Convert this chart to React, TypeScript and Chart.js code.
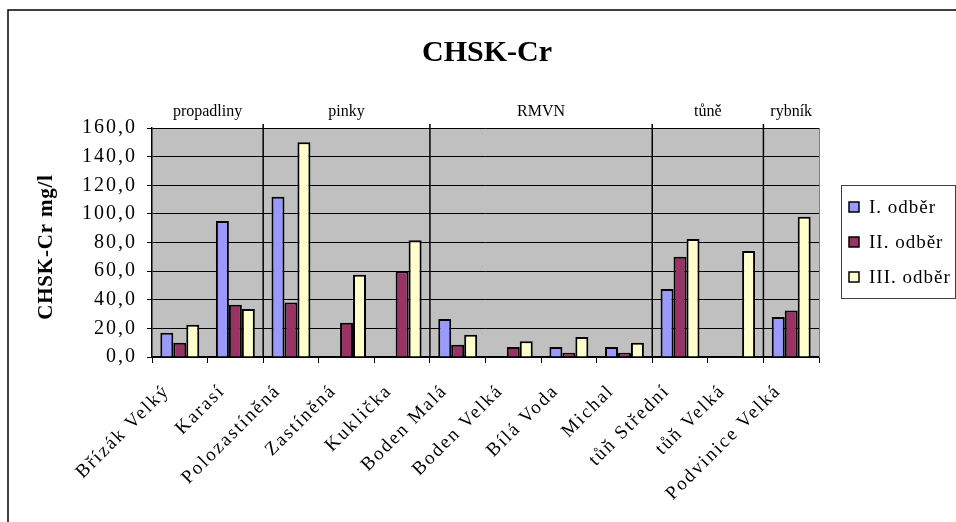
import React, { useEffect, useRef } from "react";
import { Chart, registerables } from "chart.js";

Chart.register(...registerables);

// Sampling sites (x categories)
const sites = [
  "Břízák Velký",
  "Karasí",
  "Polozastíněná",
  "Zastíněná",
  "Kuklička",
  "Boden Malá",
  "Boden Velká",
  "Bílá Voda",
  "Michal",
  "tůň Střední",
  "tůň Velká",
  "Podvinice Velká",
];

// CHSK-Cr in mg/l for each sampling round (null = not sampled)
const odber1 = [17, 95, 112, null, null, 26.5, null, 7, 7, 47.5, null, 28];
const odber2 = [10, 36.5, 38, 24, 60, 8.5, 7, 3, 3, 70, null, 32.5];
const odber3 = [22.5, 33.5, 150, 57.5, 81.5, 15.5, 11, 14, 10, 82.5, 74, 98];

const seriesNames = ["I. odběr", "II. odběr", "III. odběr"];
const seriesColors = ["#9999FF", "#993366", "#FFFFCC"];

// Site groups and how many consecutive sites each one covers
const groupNames = ["propadliny", "pinky", "RMVN", "tůně", "rybník"];
const groupSizes = [2, 3, 4, 2, 1];

const yTicks = [0, 20, 40, 60, 80, 100, 120, 140, 160];

const SERIF = '"Liberation Serif", "Times New Roman", serif';

const decorations = {
  id: "decorations",
  beforeDraw(chart: any) {
    const { ctx, chartArea } = chart;
    const { left, top, right, bottom } = chartArea;
    ctx.save();
    ctx.fillStyle = "#ffffff";
    ctx.fillRect(0, 0, chart.width, chart.height);
    ctx.fillStyle = "#C0C0C0";
    ctx.fillRect(left, top, right - left, bottom - top);
    ctx.restore();
    // axis tick labels are drawn with a little extra tracking
    ctx.letterSpacing = "2px";
  },
  afterDraw(chart: any) {
    const { ctx, chartArea } = chart;
    const { left, top, right, bottom } = chartArea;
    const x = chart.scales.x;
    ctx.save();
    ctx.letterSpacing = "0px";

    // outer frame
    ctx.strokeStyle = "#000";
    ctx.lineWidth = 1.5;
    ctx.beginPath();
    ctx.moveTo(8, chart.height + 2);
    ctx.lineTo(8, 10);
    ctx.lineTo(chart.width + 2, 10);
    ctx.stroke();

    // right edge of plot area
    ctx.strokeStyle = "#808080";
    ctx.lineWidth = 1;
    ctx.beginPath();
    ctx.moveTo(right + 0.5, top);
    ctx.lineTo(right + 0.5, bottom);
    ctx.stroke();

    // group separators and group names
    const boundary = (i: number) => {
      if (i <= 0) return left;
      if (i >= sites.length) return right;
      return (x.getPixelForValue(i - 1) + x.getPixelForValue(i)) / 2;
    };
    let start = 0;
    ctx.font = `16px ${SERIF}`;
    ctx.letterSpacing = "0px";
    ctx.fillStyle = "#000";
    ctx.textAlign = "center";
    ctx.textBaseline = "alphabetic";
    groupNames.forEach((name, gi) => {
      const end = start + groupSizes[gi];
      const x0 = boundary(start);
      const x1 = boundary(end);
      ctx.fillText(name, (x0 + x1) / 2, 116);
      if (end < sites.length) {
        ctx.strokeStyle = "#000";
        ctx.lineWidth = 1.5;
        ctx.beginPath();
        ctx.moveTo(x1, top - 4);
        ctx.lineTo(x1, bottom);
        ctx.stroke();
      }
      start = end;
    });

    // chart title
    ctx.font = `bold 30px ${SERIF}`;
    ctx.textAlign = "center";
    ctx.fillText("CHSK-Cr", 487, 61);

    // y axis title
    ctx.save();
    ctx.translate(47, 247);
    ctx.rotate(-Math.PI / 2);
    ctx.font = `bold 21px ${SERIF}`;
    ctx.letterSpacing = "0.8px";
    ctx.textBaseline = "middle";
    ctx.fillText("CHSK-Cr mg/l", 0, 0);
    ctx.restore();

    // legend
    const lx = 841, ly = 185, lw = 114, lh = 113;
    ctx.strokeStyle = "#404040";
    ctx.lineWidth = 1;
    ctx.strokeRect(lx + 0.5, ly + 0.5, lw, lh);
    ctx.font = `19px ${SERIF}`;
    ctx.letterSpacing = "1px";
    ctx.textAlign = "left";
    ctx.textBaseline = "middle";
    chart.data.datasets.forEach((ds: any, i: number) => {
      const cy = 207 + i * 35;
      ctx.fillStyle = ds.backgroundColor;
      ctx.fillRect(849, cy - 5, 10, 10);
      ctx.strokeStyle = "#000";
      ctx.lineWidth = 1.5;
      ctx.strokeRect(849, cy - 5, 10, 10);
      ctx.fillStyle = "#000";
      ctx.fillText(ds.label, 869, cy + 1);
    });

    ctx.restore();
    ctx.letterSpacing = "0px";
  },
};

export default function App() {
  const canvasRef = useRef<HTMLCanvasElement | null>(null);

  useEffect(() => {
    document.body.style.margin = "0";
    const canvas = canvasRef.current;
    if (!canvas) return;
    const datasets = [odber1, odber2, odber3].map((data, i) => ({
      label: seriesNames[i],
      data,
      backgroundColor: seriesColors[i],
      borderColor: "#000000",
      borderWidth: 2,
      categoryPercentage: 0.7,
      barPercentage: 1.0,
    }));

    const chart = new Chart(canvas, {
      type: "bar",
      data: { labels: sites, datasets },
      plugins: [decorations],
      options: {
        responsive: false,
        devicePixelRatio: 1,
        animation: false,
        layout: { padding: { left: 0, top: 128, right: 137, bottom: 0 } },
        plugins: {
          legend: { display: false },
          tooltip: { enabled: false },
          title: { display: false },
        },
        scales: {
          x: {
            offset: true,
            grid: {
              offset: true,
              drawOnChartArea: false,
              drawTicks: true,
              tickLength: 6,
              tickColor: "#000",
              lineWidth: 1,
            },
            border: { display: true, color: "#000", width: 1.5 },
            ticks: {
              autoSkip: false,
              minRotation: 45,
              maxRotation: 45,
              labelOffset: -13,
              padding: 17,
              color: "#000",
              font: { family: SERIF, size: 19 },
            },
            afterFit(scale: any) {
              scale.height = 165;
            },
          },
          y: {
            min: 0,
            max: 160,
            afterBuildTicks(scale: any) {
              scale.ticks = yTicks.map((v) => ({ value: v }));
            },
            grid: {
              color: "#000",
              lineWidth: 1,
              drawTicks: true,
              tickLength: 5,
              tickColor: "#000",
            },
            border: { display: true, color: "#000", width: 1.5 },
            ticks: {
              padding: 10,
              color: "#000",
              font: { family: SERIF, size: 20 },
              callback: (v: any) => Number(v).toFixed(1).replace(".", ","),
            },
            afterFit(scale: any) {
              scale.width = 152;
            },
          },
        },
      },
    });

    return () => chart.destroy();
  }, []);

  return (
    <div
      style={{
        position: "fixed",
        left: 0,
        top: 0,
        width: 956,
        height: 522,
        background: "#fff",
      }}
    >
      <canvas ref={canvasRef} width={956} height={522} style={{ display: "block" }} />
    </div>
  );
}
